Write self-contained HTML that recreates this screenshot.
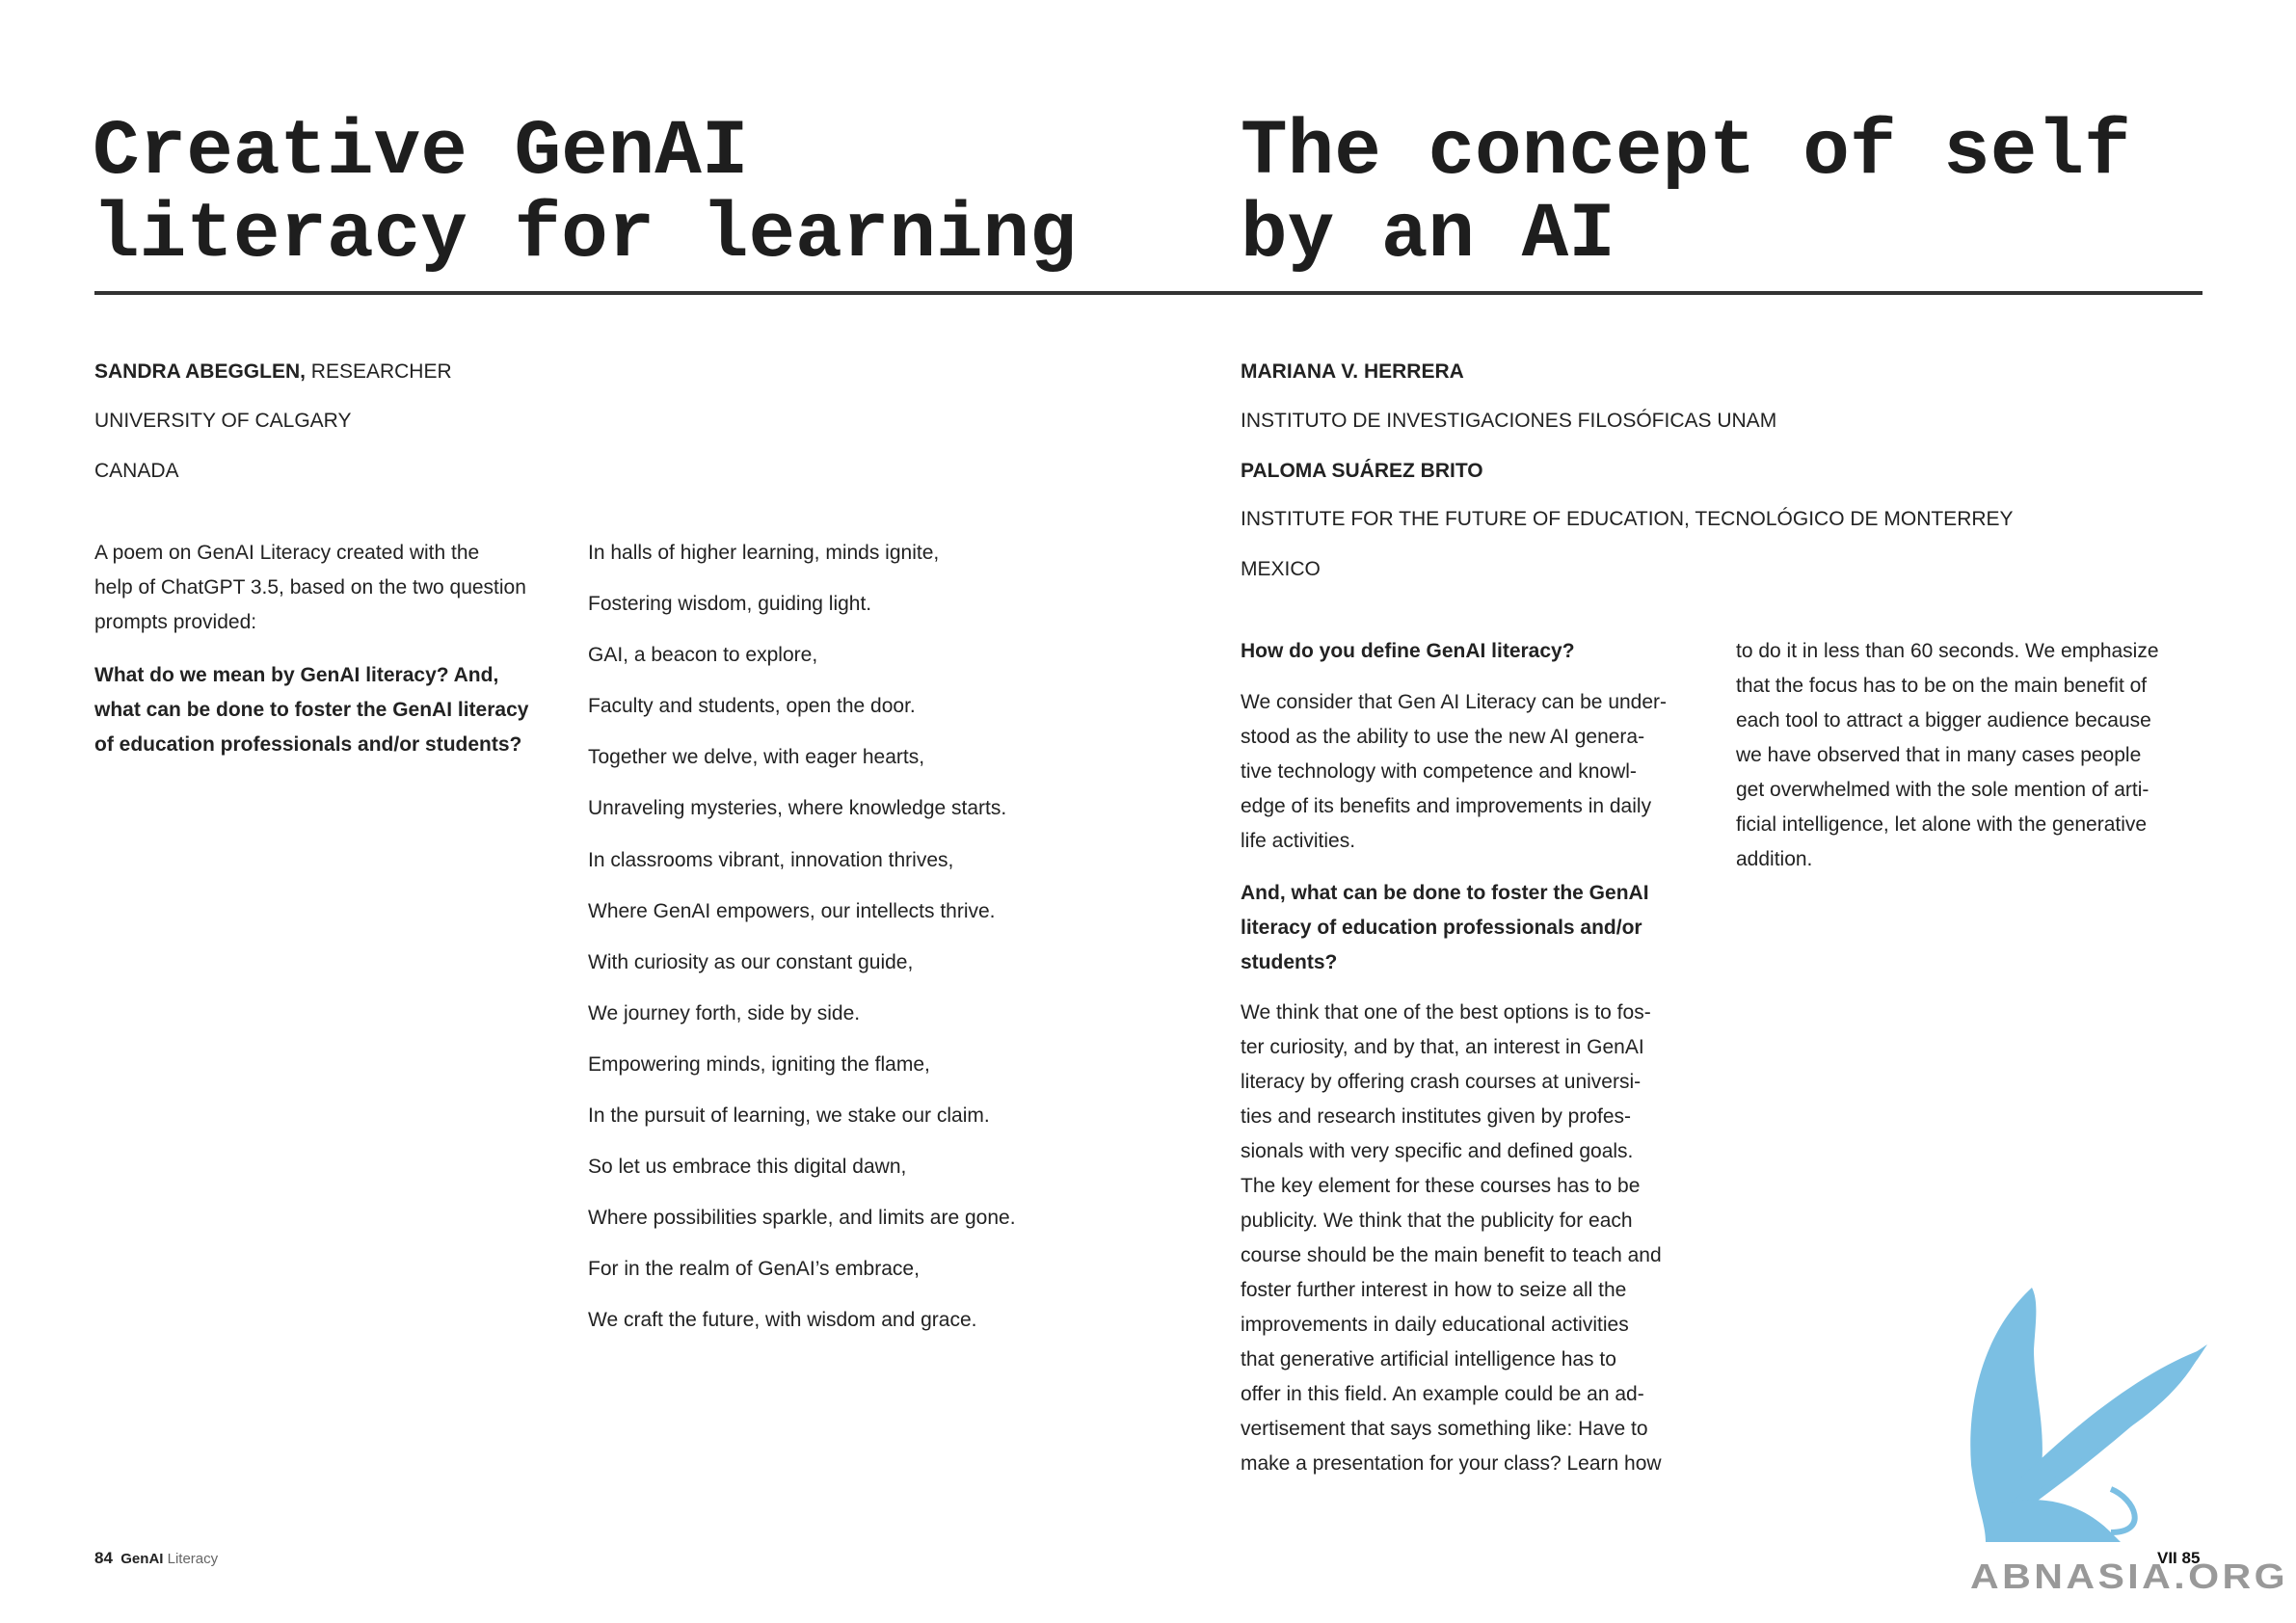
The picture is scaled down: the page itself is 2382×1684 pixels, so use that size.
<!DOCTYPE html>
<html><head><meta charset="utf-8"><style>
body{margin:0;width:2382px;height:1684px;background:#fff;position:relative;overflow:hidden;font-family:"Liberation Sans",sans-serif;color:#222}
.t{position:absolute;font-family:"Liberation Mono",monospace;font-weight:bold;font-size:81px;line-height:86px;color:#1e1e1e;white-space:nowrap;letter-spacing:0px}
.p{position:absolute;font-size:21px;line-height:36px;white-space:nowrap}
.b{font-weight:bold}
.poem div{height:53.1px;line-height:36px}
</style></head><body>
<div class="t" style="left:96px;top:116px">Creative GenAI<br>literacy for learning</div>
<div class="t" style="left:1287px;top:116px">The concept of self<br>by an AI</div>
<div style="position:absolute;left:98px;top:302px;width:2187px;height:4px;background:#333"></div>

<div class="p" style="left:98px;top:368px"><span class="b">SANDRA ABEGGLEN,</span> RESEARCHER</div>
<div class="p" style="left:98px;top:419px">UNIVERSITY OF CALGARY</div>
<div class="p" style="left:98px;top:471px">CANADA</div>

<div class="p" style="left:98px;top:556px">A poem on GenAI Literacy created with the<br>help of ChatGPT 3.5, based on the two question<br>prompts provided:</div>
<div class="p b" style="left:98px;top:683px">What do we mean by GenAI literacy? And,<br>what can be done to foster the GenAI literacy<br>of education professionals and/or students?</div>

<div class="p poem" style="left:610px;top:556px">
<div>In halls of higher learning, minds ignite,</div>
<div>Fostering wisdom, guiding light.</div>
<div>GAI, a beacon to explore,</div>
<div>Faculty and students, open the door.</div>
<div>Together we delve, with eager hearts,</div>
<div>Unraveling mysteries, where knowledge starts.</div>
<div>In classrooms vibrant, innovation thrives,</div>
<div>Where GenAI empowers, our intellects thrive.</div>
<div>With curiosity as our constant guide,</div>
<div>We journey forth, side by side.</div>
<div>Empowering minds, igniting the flame,</div>
<div>In the pursuit of learning, we stake our claim.</div>
<div>So let us embrace this digital dawn,</div>
<div>Where possibilities sparkle, and limits are gone.</div>
<div>For in the realm of GenAI’s embrace,</div>
<div>We craft the future, with wisdom and grace.</div>
</div>

<div class="p b" style="left:1287px;top:368px">MARIANA V. HERRERA</div>
<div class="p" style="left:1287px;top:419px">INSTITUTO DE INVESTIGACIONES FILOSÓFICAS UNAM</div>
<div class="p b" style="left:1287px;top:471px">PALOMA SUÁREZ BRITO</div>
<div class="p" style="left:1287px;top:521px">INSTITUTE FOR THE FUTURE OF EDUCATION, TECNOLÓGICO DE MONTERREY</div>
<div class="p" style="left:1287px;top:573px">MEXICO</div>

<div class="p b" style="left:1287px;top:658px">How do you define GenAI literacy?</div>
<div class="p" style="left:1287px;top:711px">We consider that Gen AI Literacy can be under-<br>stood as the ability to use the new AI genera-<br>tive technology with competence and knowl-<br>edge of its benefits and improvements in daily<br>life activities.</div>
<div class="p b" style="left:1287px;top:909px">And, what can be done to foster the GenAI<br>literacy of education professionals and/or<br>students?</div>
<div class="p" style="left:1287px;top:1033px">We think that one of the best options is to fos-<br>ter curiosity, and by that, an interest in GenAI<br>literacy by offering crash courses at universi-<br>ties and research institutes given by profes-<br>sionals with very specific and defined goals.<br>The key element for these courses has to be<br>publicity. We think that the publicity for each<br>course should be the main benefit to teach and<br>foster further interest in how to seize all the<br>improvements in daily educational activities<br>that generative artificial intelligence has to<br>offer in this field. An example could be an ad-<br>vertisement that says something like: Have to<br>make a presentation for your class? Learn how</div>
<div class="p" style="left:1801px;top:658px">to do it in less than 60 seconds. We emphasize<br>that the focus has to be on the main benefit of<br>each tool to attract a bigger audience because<br>we have observed that in many cases people<br>get overwhelmed with the sole mention of arti-<br>ficial intelligence, let alone with the generative<br>addition.</div>

<div style="position:absolute;left:98px;top:1607px;font-size:15px;white-space:nowrap"><b style="font-size:17px">84</b>&nbsp;&nbsp;<b>GenAI</b> <span style="color:#666">Literacy</span></div>

<svg style="position:absolute;left:0;top:0" width="2382" height="1684">
<g fill="#7bbfe3">
<path d="M2108,1336 C2060,1380 2040,1450 2045,1520 C2050,1560 2060,1580 2060,1600 L2100,1600 L2110,1560 C2130,1500 2110,1450 2110,1400 C2112,1370 2115,1350 2108,1336Z"/>
<path d="M2085,1560 C2150,1500 2220,1440 2290,1395 L2280,1410 C2250,1450 2200,1490 2150,1530 L2110,1560Z"/>
<path d="M2090,1540 C2160,1470 2230,1420 2285,1400 C2265,1440 2230,1470 2180,1500 C2150,1520 2120,1540 2100,1560Z"/>
<path d="M2080,1560 C2120,1550 2160,1560 2190,1590 L2200,1600 L2060,1600 Z"/>
<path d="M2190,1590 C2230,1590 2215,1555 2190,1545" stroke="#7bbfe3" stroke-width="6" fill="none"/>
</g>
<text x="2044" y="1648" font-family="Liberation Sans,sans-serif" font-weight="bold" font-size="36" fill="#999" letter-spacing="3" textLength="330" lengthAdjust="spacingAndGlyphs">ABNASIA.ORG</text>
<text x="2238" y="1622" font-family="Liberation Sans,sans-serif" font-weight="bold" font-size="17" fill="#111">VII  85</text>
</svg>
</body></html>
